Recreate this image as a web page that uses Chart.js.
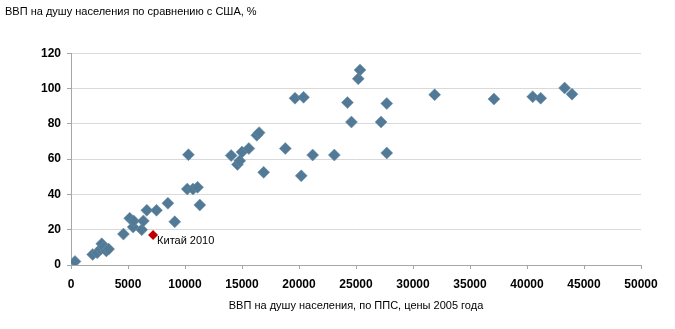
<!DOCTYPE html>
<html>
<head>
<meta charset="utf-8">
<script src="https://cdn.jsdelivr.net/npm/chart.js@4.4.0/dist/chart.umd.min.js"></script>
<style>
  html, body { margin: 0; padding: 0; background: #fff; }
  #wrap { width: 675px; height: 329px; position: relative; }
</style>
</head>
<body>
<div id="wrap"><canvas id="gdpChart"></canvas></div>
<script>
// ВВП на душу населения (ППС, $ 2005) vs. % от уровня США
const gdpPpp = [
  350, 1900, 2300, 2600, 2700, 2900, 3100, 3300, 4600, 5150,
  5450, 5500, 6200, 6350, 6650, 7500, 8500, 9100, 10300, 10200,
  10700, 11100, 11300, 14050, 14600, 14800, 15000, 15600, 16300, 16500,
  16900, 18800, 19650, 20400, 20200, 21200, 23100, 24250, 24600, 25200,
  25350, 27200, 27700, 27700, 31900, 37100, 40500, 41200, 43300, 43950
];
const pctOfUs = [
  2, 6, 7, 9, 12, 10, 8, 9, 17.5, 26.5,
  21.5, 25, 20, 25, 31, 31, 35, 24.5, 62.5, 43,
  43, 44, 34, 62, 57, 59, 64, 66, 73.5, 75,
  52.5, 66, 94.5, 95, 50.5, 62.3, 62.3, 92, 81, 105.5,
  110.5, 81, 91.5, 63.5, 96.5, 94, 95.3, 94.5, 100.3, 96.8
];
const chinaX = [7200];
const chinaY = [17];
const chinaLabel = 'Китай 2010';
const yTitle = 'ВВП на душу населения по сравнению с США, %';
const xTitle = 'ВВП на душу населения, по ППС, цены 2005 года';

const blue = '#527a96';
const red = '#c00000';

function toPoints(xs, ys) {
  return xs.map((x, i) => ({ x: x, y: ys[i] }));
}

// label next to the China point
const chinaLabelPlugin = {
  id: 'chinaLabel',
  afterDatasetsDraw(chart) {
    const meta = chart.getDatasetMeta(1);
    const pt = meta.data[0];
    if (!pt) return;
    const ctx = chart.ctx;
    ctx.save();
    ctx.font = '11px "Liberation Sans", Arial, sans-serif';
    ctx.fillStyle = '#000';
    ctx.textBaseline = 'middle';
    ctx.fillText(chinaLabel, pt.x + 4, pt.y + 6);
    ctx.restore();
  }
};

const tickFont = { family: '"Liberation Sans", Arial, sans-serif', size: 12, weight: 'bold' };
const textFont = { family: '"Liberation Sans", Arial, sans-serif', size: 11, weight: 'normal' };

new Chart(document.getElementById('gdpChart'), {
  type: 'scatter',
  data: {
    datasets: [
      {
        data: toPoints(gdpPpp, pctOfUs),
        pointStyle: 'rectRot',
        pointRadius: 6,
        backgroundColor: blue,
        borderColor: '#6a8fa9',
        borderWidth: 0.5
      },
      {
        data: toPoints(chinaX, chinaY),
        pointStyle: 'rectRot',
        pointRadius: 5,
        backgroundColor: red,
        borderColor: red,
        borderWidth: 0
      }
    ]
  },
  options: {
    responsive: true,
    maintainAspectRatio: false,
    animation: false,
    layout: { padding: { left: 5, right: 34, top: 0, bottom: 0 } },
    plugins: {
      legend: { display: false },
      tooltip: { enabled: false },
      title: {
        display: true,
        text: yTitle,
        align: 'start',
        color: '#000',
        font: textFont,
        padding: { top: 5, bottom: 35 }
      }
    },
    scales: {
      x: {
        type: 'linear',
        min: 0,
        max: 50000,
        ticks: {
          stepSize: 5000, color: '#000', font: tickFont, padding: 8, maxRotation: 0,
          callback: v => String(v)
        },
        grid: { display: true, drawOnChartArea: false, color: '#a6a6a6', tickLength: 4 },
        border: { color: '#a6a6a6' },
        title: { display: true, text: xTitle, color: '#000', font: textFont, padding: { top: 0, bottom: 16 } },
        afterFit(scale) { scale.height = 64; }
      },
      y: {
        min: 0,
        max: 120,
        ticks: { stepSize: 20, color: '#000', font: tickFont, padding: 6 },
        grid: { color: '#d9d9d9', tickLength: 4, tickColor: '#a6a6a6' },
        border: { color: '#a6a6a6' },
        afterFit(scale) { scale.width = 66; }
      }
    }
  },
  plugins: [chinaLabelPlugin]
});
</script>
</body>
</html>
